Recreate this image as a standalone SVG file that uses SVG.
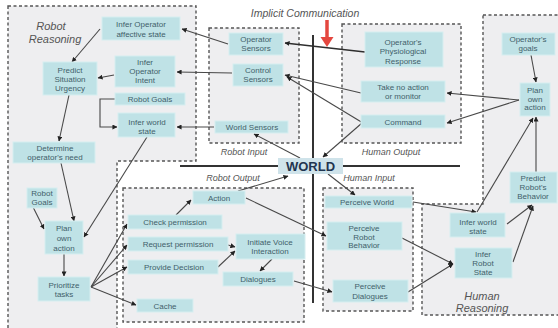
<svg xmlns="http://www.w3.org/2000/svg" width="558" height="328" viewBox="0 0 558 328">
<style>
.panel{fill:#eeeef0;stroke:#555;stroke-width:1.4;stroke-dasharray:3,2.5}
.node rect{fill:#bfe2e6;stroke:#d6eef0;stroke-width:1}
.node text{font-family:"Liberation Sans",Arial,sans-serif;font-size:8px;fill:#3f5f6a;text-anchor:middle}
.lbl{font-family:"Liberation Sans",Arial,sans-serif;font-style:italic;fill:#555}
.c{stroke:#484848;stroke-width:1.1;fill:none;marker-end:url(#ah)}
.axis{stroke:#333;stroke-width:2;fill:none}
</style>
<defs>
<marker id="ah" viewBox="0 0 6 6" refX="5.5" refY="3" markerWidth="5" markerHeight="5" markerUnits="userSpaceOnUse" orient="auto">
<path d="M0,0 L6,3 L0,6 z" fill="#222"/>
</marker>
</defs>
<rect width="558" height="328" fill="#fff"/>
<g id="panels">
<path class="panel" d="M8,6 H196 V161 H117 V331 H8 Z"/>
<rect class="panel" x="209" y="28" width="90" height="115"/>
<rect class="panel" x="342" y="24" width="119" height="119"/>
<rect class="panel" x="123" y="188" width="181" height="134"/>
<rect class="panel" x="323" y="188" width="90" height="123"/>
<path class="panel" d="M483,15 H561 V315 H422 V204 H483 Z"/>
</g>
<g id="labels">
<text class="lbl" x="51" y="30" font-size="11" text-anchor="middle">Robot</text>
<text class="lbl" x="55" y="43" font-size="11" text-anchor="middle">Reasoning</text>
<text class="lbl" x="482" y="300" font-size="11" text-anchor="middle">Human</text>
<text class="lbl" x="482" y="312" font-size="11" text-anchor="middle">Reasoning</text>
<text class="lbl" x="244" y="155" font-size="9" text-anchor="middle">Robot Input</text>
<text class="lbl" x="391" y="155" font-size="9" text-anchor="middle">Human Output</text>
<text class="lbl" x="233" y="181" font-size="9" text-anchor="middle">Robot Output</text>
<text class="lbl" x="369" y="181" font-size="9" text-anchor="middle">Human Input</text>
<text class="lbl" x="305" y="17" font-size="10.5" text-anchor="middle">Implicit Communication</text>
</g>
<g id="axes">
<line class="axis" x1="180" y1="166" x2="278" y2="166"/>
<line class="axis" x1="343" y1="166" x2="460" y2="166"/>
<line class="axis" x1="313" y1="35" x2="313" y2="303"/>
</g>
<g id="connectors">
<line class="c" x1="100" y1="29" x2="72" y2="62"/>
<line class="c" x1="114" y1="75" x2="98" y2="78"/>
<line class="c" x1="69" y1="95" x2="59" y2="141"/>
<path class="c" d="M115,99 H100 V127 H117"/>
<line class="c" x1="147" y1="137" x2="84" y2="237"/>
<line class="c" x1="61" y1="163" x2="74" y2="221"/>
<line class="c" x1="33" y1="207" x2="44" y2="229"/>
<line class="c" x1="64" y1="254" x2="64" y2="276"/>
<line class="c" x1="91" y1="287" x2="127" y2="224"/>
<line class="c" x1="91" y1="287" x2="127" y2="245"/>
<line class="c" x1="91" y1="287" x2="127" y2="267"/>
<line class="c" x1="91" y1="287" x2="136" y2="305"/>
<line class="c" x1="176" y1="215" x2="191" y2="200"/>
<line class="c" x1="228" y1="245" x2="235" y2="247"/>
<line class="c" x1="218" y1="267" x2="235" y2="251"/>
<line class="c" x1="272" y1="259" x2="260" y2="271"/>
<line class="c" x1="238" y1="191" x2="288" y2="176"/>
<line class="c" x1="246" y1="198" x2="326" y2="236"/>
<line class="c" x1="294" y1="281" x2="332" y2="292"/>
<line class="c" x1="300" y1="158" x2="254" y2="134"/>
<line class="c" x1="328" y1="174" x2="355" y2="195"/>
<line class="c" x1="362" y1="123" x2="323" y2="157"/>
<line class="c" x1="228" y1="44" x2="182" y2="29"/>
<line class="c" x1="232" y1="73" x2="177" y2="72"/>
<line class="c" x1="214" y1="127" x2="177" y2="127"/>
<line class="c" x1="365" y1="52" x2="285" y2="43" style="stroke:#2e2e2e;stroke-width:1.6"/>
<line class="c" x1="361" y1="93" x2="285" y2="75"/>
<line class="c" x1="363" y1="123" x2="287" y2="77"/>
<line class="c" x1="519" y1="100" x2="447" y2="93"/>
<line class="c" x1="519" y1="100" x2="447" y2="123"/>
<line class="c" x1="531" y1="55" x2="536" y2="82"/>
<line class="c" x1="536" y1="172" x2="536" y2="117"/>
<line class="c" x1="477" y1="212" x2="533" y2="118"/>
<line class="c" x1="413" y1="202" x2="476" y2="212"/>
<line class="c" x1="507" y1="224" x2="532" y2="205"/>
<line class="c" x1="513" y1="262" x2="533" y2="206"/>
<line class="c" x1="402" y1="238" x2="453" y2="264"/>
<line class="c" x1="408" y1="292" x2="453" y2="264"/>
<line x1="327" y1="20" x2="327" y2="39" stroke="#e4473f" stroke-width="3.5"/>
<polygon points="320.5,37 333.5,37 327,47" fill="#e4473f"/>
</g>
<g id="world">
<rect x="278" y="158" width="65" height="16" fill="#cfe3ea"/>
<text x="310.5" y="170.5" font-family="Liberation Sans,Arial,sans-serif" font-size="13" font-weight="bold" fill="#1f3550" text-anchor="middle">WORLD</text>
</g>
<g id="n-infer-affective" class="node"><rect x="102" y="17" width="78" height="23"/><text x="141" y="27">Infer Operator</text><text x="141" y="36.5">affective state</text></g>
<g id="n-predict-urgency" class="node"><rect x="43" y="62" width="54" height="33"/><text x="70" y="73">Predict</text><text x="70" y="82">Situation</text><text x="70" y="91">Urgency</text></g>
<g id="n-infer-intent" class="node"><rect x="115" y="56" width="60" height="31"/><text x="145" y="65">Infer</text><text x="145" y="74">Operator</text><text x="145" y="83">Intent</text></g>
<g id="n-robot-goals-1" class="node"><rect x="115" y="93" width="70" height="12"/><text x="150" y="102">Robot Goals</text></g>
<g id="n-infer-world-r" class="node"><rect x="118" y="113" width="57" height="24"/><text x="147" y="124.5">Infer world</text><text x="147" y="133.5">state</text></g>
<g id="n-determine-need" class="node"><rect x="13" y="142" width="82" height="21"/><text x="55" y="151">Determine</text><text x="55" y="160">operator's need</text></g>
<g id="n-robot-goals-2" class="node"><rect x="27" y="188" width="30" height="20"/><text x="42" y="196">Robot</text><text x="42" y="205">Goals</text></g>
<g id="n-plan-own-r" class="node"><rect x="45" y="221" width="38" height="33"/><text x="64" y="231">Plan</text><text x="64" y="241">own</text><text x="64" y="251">action</text></g>
<g id="n-prioritize" class="node"><rect x="38" y="277" width="52" height="24"/><text x="64" y="288">Prioritize</text><text x="64" y="297">tasks</text></g>
<g id="n-action" class="node"><rect x="193" y="191" width="52" height="13"/><text x="219" y="200.5">Action</text></g>
<g id="n-check-permission" class="node"><rect x="128" y="215" width="94" height="14"/><text x="175" y="225">Check permission</text></g>
<g id="n-request-permission" class="node"><rect x="128" y="237" width="100" height="14"/><text x="178" y="247">Request permission</text></g>
<g id="n-provide-decision" class="node"><rect x="128" y="260" width="90" height="14"/><text x="174" y="270">Provide Decision</text></g>
<g id="n-cache" class="node"><rect x="137" y="299" width="56" height="13"/><text x="165" y="308.5">Cache</text></g>
<g id="n-initiate-voice" class="node"><rect x="236" y="234" width="69" height="25"/><text x="270" y="245">Initiate Voice</text><text x="270" y="254">Interaction</text></g>
<g id="n-dialogues" class="node"><rect x="223" y="272" width="70" height="14"/><text x="258" y="282">Dialogues</text></g>
<g id="n-operator-sensors" class="node"><rect x="229" y="33" width="54" height="22"/><text x="256" y="41.5">Operator</text><text x="256" y="50.5">Sensors</text></g>
<g id="n-control-sensors" class="node"><rect x="233" y="64" width="50" height="22"/><text x="258" y="72.5">Control</text><text x="258" y="81.5">Sensors</text></g>
<g id="n-world-sensors" class="node"><rect x="215" y="121" width="73" height="12"/><text x="252" y="130">World Sensors</text></g>
<g id="n-physiological" class="node"><rect x="365" y="32" width="78" height="35"/><text x="403" y="44.5">Operator's</text><text x="403" y="54">Physiological</text><text x="403" y="63.5">Response</text></g>
<g id="n-take-no-action" class="node"><rect x="361" y="81" width="84" height="21"/><text x="403" y="90">Take no action</text><text x="403" y="99">or monitor</text></g>
<g id="n-command" class="node"><rect x="361" y="115" width="84" height="13"/><text x="403" y="124.5">Command</text></g>
<g id="n-operator-goals" class="node"><rect x="502" y="33" width="53" height="22"/><text x="528" y="41.5">Operator's</text><text x="528" y="50.5">goals</text></g>
<g id="n-plan-own-h" class="node"><rect x="520" y="83" width="30" height="33"/><text x="535" y="93">Plan</text><text x="535" y="101.5">own</text><text x="535" y="110">action</text></g>
<g id="n-predict-robot" class="node"><rect x="510" y="172" width="47" height="31"/><text x="533" y="181">Predict</text><text x="533" y="190">Robot's</text><text x="533" y="199">Behavior</text></g>
<g id="n-infer-world-h" class="node"><rect x="450" y="213" width="55" height="24"/><text x="478" y="224.5">Infer world</text><text x="478" y="233.5">state</text></g>
<g id="n-infer-robot-state" class="node"><rect x="455" y="248" width="57" height="30"/><text x="483" y="256.5">Infer</text><text x="483" y="265.5">Robot</text><text x="483" y="274.5">State</text></g>
<g id="n-perceive-world" class="node"><rect x="325" y="196" width="87" height="12"/><text x="367" y="205">Perceive World</text></g>
<g id="n-perceive-robot" class="node"><rect x="327" y="222" width="75" height="28"/><text x="364" y="231">Perceive</text><text x="364" y="239.5">Robot</text><text x="364" y="248">Behavior</text></g>
<g id="n-perceive-dialogues" class="node"><rect x="333" y="280" width="75" height="22"/><text x="370" y="289">Perceive</text><text x="370" y="298.5">Dialogues</text></g>
</svg>
